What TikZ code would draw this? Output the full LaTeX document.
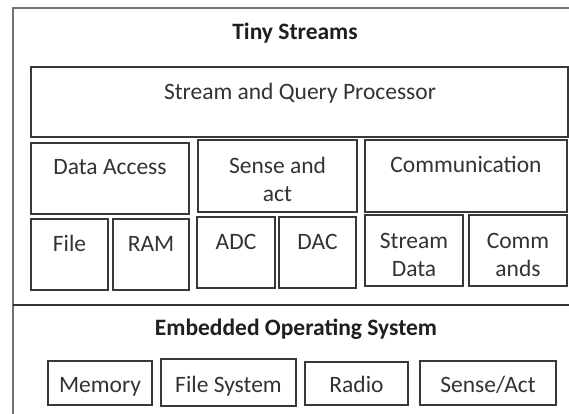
\documentclass[tikz,border=0pt]{standalone}
\usepackage{fontspec}
\setmainfont{Carlito}
\usetikzlibrary{shadows}
\newcommand\mybox[5]{\node[bx, minimum width={#4-#2}, minimum height={#5-#3}] (#1) at ({(#2+#4)/2},{(#3+#5)/2}) {};}
\begin{document}
\begin{tikzpicture}[x=1pt,y=-1pt,
  bx/.style={draw=black!78, line width=1.1pt, fill=white, inner sep=0pt,
    drop shadow={shadow xshift=1.4pt, shadow yshift=-1.4pt, opacity=0.5}},
  txt/.style={anchor=base, text=black!80, font=\fontsize{23.5}{28}\selectfont, inner sep=0pt},
  txt2/.style={txt, anchor=center, align=center},
  ttl/.style={txt, font=\fontsize{23.5}{28}\selectfont\bfseries, text=black!88},
  frame/.style={draw=black!55, line width=1.7pt},
  divider/.style={draw=black!80, line width=1.9pt}]
\useasboundingbox (0,0) rectangle (569,414);
\clip (0,0) rectangle (569,414);
\fill[white] (0,0) rectangle (569,414);
% outer frame
\coordinate (ftr) at (600,8.3);
\coordinate (ftl) at (12.7,8.3);
\coordinate (fbl) at (12.7,450);
\coordinate (dl) at (12.7,305);
\coordinate (dr) at (600,305);
\draw[frame] (ftr) -- (ftl) -- (fbl);
\draw[divider] (dl) -- (dr);
% titles
\node[ttl] (tiny) at (295,40) {Tiny Streams};
\node[ttl] (eos) at (296,335) {Embedded Operating System};
% boxes
\mybox{sqp}{31}{67}{568}{137}
\mybox{da}{31}{143}{189}{214}
\mybox{sa}{198}{140}{357}{212}
\mybox{cm}{365}{140}{567}{212}
\mybox{file}{31}{219}{108}{290}
\mybox{ram}{113}{219}{189}{290}
\mybox{adc}{197}{217}{275}{288}
\mybox{dac}{279}{217}{356}{288}
\mybox{sd}{365}{215}{463}{286}
\mybox{cmd}{469}{215}{567}{286}
\mybox{mem}{48}{361}{152}{405}
\mybox{fs}{161}{359}{296}{406}
\mybox{rad}{305}{362}{408}{405}
\mybox{sact}{420}{361}{556}{405}
% texts
\node[txt] (tsqp) at (300,100) {Stream and Query Processor};
\node[txt] (tda) at (110,174) {Data Access};
\node[txt2] (tsa) at (277.5,179) {Sense and\\act};
\node[txt] (tcm) at (466,172) {Communication};
\node[txt] (tfile) at (69.5,251) {File};
\node[txt] (tram) at (151,251) {RAM};
\node[txt] (tadc) at (236,249) {ADC};
\node[txt] (tdac) at (317.5,249) {DAC};
\node[txt2] (tsd) at (414,255) {Stream\\Data};
\node[txt2] (tcmd) at (518,255) {Comm\\ands};
\node[txt] (tmem) at (100,392) {Memory};
\node[txt] (tfs) at (228.5,392) {File System};
\node[txt] (trad) at (356.5,392) {Radio};
\node[txt] (tsact) at (488,392) {Sense/Act};
\end{tikzpicture}
\end{document}
